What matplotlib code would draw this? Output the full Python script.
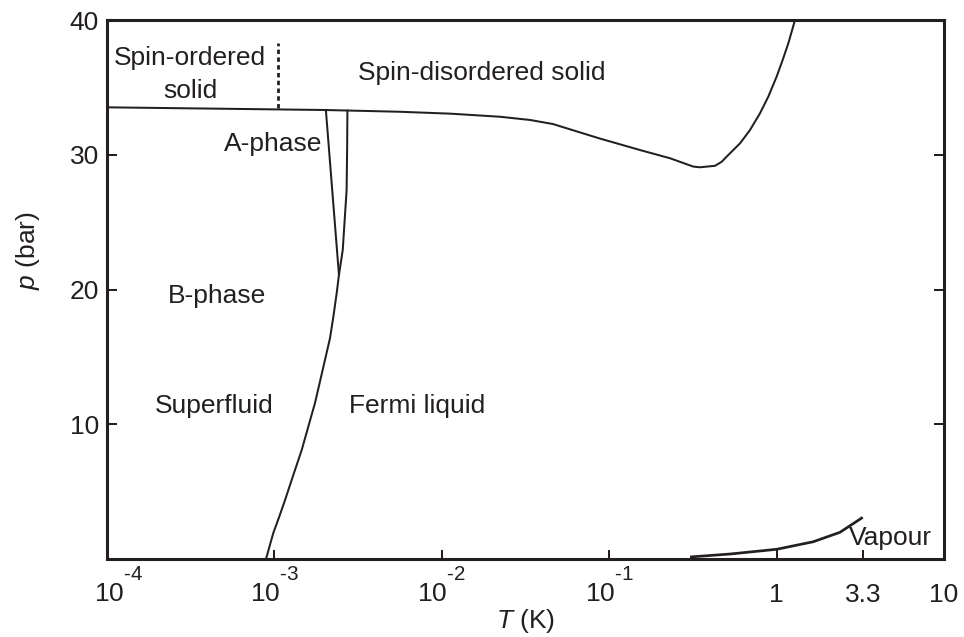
import matplotlib
matplotlib.use('Agg')
import matplotlib.pyplot as plt
import matplotlib.transforms as mtrans
from matplotlib.ticker import FixedLocator, NullLocator, FixedFormatter
import matplotlib._mathtext as _mt

# raise / enlarge superscripts like the reference
_mt.FontConstantsBase.sup1 = 1.55
_mt.SHRINK_FACTOR = 0.78

plt.rcParams['font.family'] = ['Liberation Sans', 'DejaVu Sans']
plt.rcParams['mathtext.fontset'] = 'custom'
plt.rcParams['mathtext.rm'] = 'Liberation Sans'
plt.rcParams['mathtext.it'] = 'Liberation Sans:italic'
plt.rcParams['mathtext.bf'] = 'Liberation Sans:bold'

INK = '#231f20'

# ---------------- data ----------------
# melting curve (solid / liquid boundary)
melt_T = [1e-4, 2.03e-3, 5.62e-3, 0.0112, 0.0223, 0.0337, 0.0461, 0.0881,
          0.1528, 0.2308, 0.318, 0.348, 0.4286, 0.470, 0.503, 0.605, 0.694,
          0.796, 0.892, 1.0, 1.096, 1.175, 1.288]
melt_p = [33.52, 33.32, 33.19, 33.05, 32.82, 32.58, 32.28, 31.2,
          30.35, 29.74, 29.12, 29.07, 29.18, 29.48, 29.86, 30.85, 31.84,
          33.08, 34.31, 35.79, 37.16, 38.27, 40.0]

# superfluid transition line (A-normal continuing into B-normal)
tc_T = [2.73e-3, 2.72e-3, 2.70e-3, 2.56e-3, 2.43e-3, 2.355e-3, 2.25e-3,
        2.148e-3, 2.005e-3, 1.871e-3, 1.748e-3, 1.594e-3, 1.456e-3,
        1.297e-3, 1.158e-3, 1.069e-3, 0.985e-3, 0.891e-3]
tc_p = [33.27, 30.5, 27.38, 22.93, 21.08, 19.72, 17.98,
        16.38, 14.77, 13.16, 11.58, 9.82, 8.09,
        6.23, 4.38, 3.14, 1.93, 0.0]

# A-B transition line
ab_T = [2.03e-3, 2.43e-3]
ab_p = [33.32, 21.08]

# spin ordering transition in the solid (dotted)
order_T = [1.05e-3, 1.05e-3]
order_p = [33.5, 38.3]

# vapour pressure curve
vap_T = [0.304, 0.527, 1.0, 1.656, 2.39, 3.27]
vap_p = [0.15, 0.37, 0.72, 1.28, 1.98, 3.09]

x_ticks = [1e-4, 1e-3, 1e-2, 1e-1, 1, 3.3, 10]
x_tick_labels = [r'$10^{\text{-}4}$', r'$10^{\text{-}3}$', r'$10^{\text{-}2}$',
                 r'$10^{\text{-}1}$', '1', '3.3', '10']
y_ticks = [10, 20, 30, 40]
y_tick_labels = ['10', '20', '30', '40']

# ---------------- figure ----------------
W, H = 964, 637
fig = plt.figure(figsize=(W / 100, H / 100), dpi=100)
ax = fig.add_axes([107 / W, 78 / H, 837 / W, 539 / H])

ax.plot(melt_T, melt_p, color=INK, lw=1.45, solid_joinstyle='round')
ax.plot(tc_T, tc_p, color=INK, lw=1.45, solid_joinstyle='round')
ax.plot(ab_T, ab_p, color=INK, lw=1.45)
ax.plot(order_T, order_p, color=INK, lw=2.0, linestyle=(0, (1.6, 1.2)))
ax.plot(vap_T, vap_p, color=INK, lw=1.95, solid_capstyle='butt',
        solid_joinstyle='round')

ax.set_xscale('log')
ax.set_xlim(1e-4, 10)
ax.set_ylim(0, 40)

ax.xaxis.set_major_locator(FixedLocator(x_ticks))
ax.xaxis.set_major_formatter(FixedFormatter(x_tick_labels))
ax.xaxis.set_minor_locator(NullLocator())
ax.yaxis.set_major_locator(FixedLocator(y_ticks))
ax.yaxis.set_major_formatter(FixedFormatter(y_tick_labels))
ax.yaxis.set_minor_locator(NullLocator())

for s in ax.spines.values():
    s.set_linewidth(2.2)
    s.set_color(INK)

ax.tick_params(axis='x', which='major', direction='in', bottom=True, top=False,
               length=6.5, width=1.45, pad=31, labelsize=19, colors=INK)
ax.tick_params(axis='y', which='major', direction='in', left=True, right=True,
               length=7.2, width=1.45, pad=5.8, labelsize=19, colors=INK)

for t in ax.xaxis.get_major_ticks():
    t.label1.set_verticalalignment('baseline')
t0 = ax.xaxis.get_major_ticks()[0]
t0.label1.set_transform(t0.label1.get_transform() +
                        mtrans.ScaledTranslation(12 / 100, 0, fig.dpi_scale_trans))

# region labels
fs = 19
ax.text(3.13e-4, 36.66, 'Spin-ordered', ha='center', va='baseline', fontsize=fs, color=INK)
ax.text(3.13e-4, 34.21, 'solid', ha='center', va='baseline', fontsize=fs, color=INK)
ax.text(0.01738, 35.55, 'Spin-disordered solid', ha='center', va='baseline', fontsize=fs, color=INK)
ax.text(9.81e-4, 30.28, 'A-phase', ha='center', va='baseline', fontsize=fs, color=INK)
ax.text(4.54e-4, 19.0, 'B-phase', ha='center', va='baseline', fontsize=fs, color=INK)
ax.text(4.35e-4, 10.83, 'Superfluid', ha='center', va='baseline', fontsize=fs, color=INK)
ax.text(7.11e-3, 10.83, 'Fermi liquid', ha='center', va='baseline', fontsize=fs, color=INK)
ax.text(4.76, 1.04, 'Vapour', ha='center', va='baseline', fontsize=fs, color=INK)

# axis labels
fig.text(28.5 / W, 1 - 251 / H, r'$p$ (bar)', rotation=90, ha='center', va='center',
         fontsize=fs, color=INK)
fig.text(525.5 / W, 1 - 628 / H, r'$T$ (K)', ha='center', va='baseline',
         fontsize=fs, color=INK)

fig.savefig('out.png', dpi=100)
